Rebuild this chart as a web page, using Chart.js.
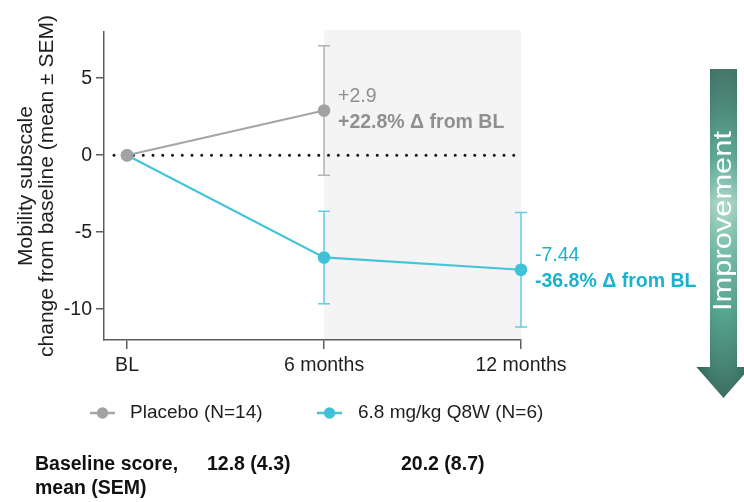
<!DOCTYPE html>
<html><head><meta charset="utf-8">
<script src="https://cdn.jsdelivr.net/npm/chart.js@4.4.0/dist/chart.umd.min.js"></script>
<style>html,body{margin:0;padding:0;background:#fff;}canvas{display:block;}</style>
</head><body>
<canvas id="c" width="744" height="502"></canvas>
<script>
// ---- data ----
const categories = ['BL', '6 months', '12 months'];
const xPositions = [0, 1, 2];
const yTicks = [-10, -5, 0, 5];
const seriesNames = ['Placebo (N=14)', '6.8 mg/kg Q8W (N=6)'];
const placeboMean = [0, 2.9];
const placeboSem = [0, 4.2];
const drugMean = [0, -6.64, -7.44];
const drugSem = [0, 3.0, 3.72];
const placeboLabel = ['+2.9', '+22.8% \u0394 from BL'];
const drugLabel = ['-7.44', '-36.8% \u0394 from BL'];
const baselineRowTitle = ['Baseline score,', 'mean (SEM)'];
const baselineScores = ['12.8 (4.3)', '20.2 (8.7)'];
const arrowText = 'Improvement';
const yTitle = ['Mobility subscale', 'change from baseline (mean \u00b1 SEM)'];

const FONT = "'Liberation Sans', Arial, Helvetica, sans-serif";
const GRAY = '#a5a5a8';
const CYAN = '#45c3d9';
const AXIS = '#5c5c5c';
const TXT = '#1e1e1e';

function pts(means) { return means.map((v, i) => ({ x: xPositions[i], y: v })); }

const bandPlugin = {
  id: 'band',
  beforeDraw(chart) {
    const { ctx, chartArea, scales } = chart;
    const x1 = scales.x.getPixelForValue(xPositions[1]);
    const x2 = scales.x.getPixelForValue(xPositions[2]);
    ctx.save();
    ctx.fillStyle = '#f4f4f4';
    ctx.fillRect(x1, chartArea.top - 2, x2 - x1, chartArea.bottom - chartArea.top + 2);
    ctx.restore();
  }
};

const refErrPlugin = {
  id: 'referr',
  beforeDatasetsDraw(chart) {
    const { ctx, chartArea, scales } = chart;
    const y0 = scales.y.getPixelForValue(0);
    ctx.save();
    ctx.strokeStyle = '#111';
    ctx.lineWidth = 3;
    ctx.lineCap = 'round';
    ctx.setLineDash([0, 9.75]);
    ctx.beginPath();
    ctx.moveTo(chartArea.left + 10, y0);
    ctx.lineTo(scales.x.getPixelForValue(xPositions[2]), y0);
    ctx.stroke();
    ctx.restore();
    // error bars
    const sets = [
      { m: placeboMean, s: placeboSem, c: '#b2b2b4' },
      { m: drugMean, s: drugSem, c: '#62cce0' }
    ];
    ctx.save();
    ctx.lineWidth = 1.5;
    sets.forEach(set => {
      ctx.strokeStyle = set.c;
      set.m.forEach((v, i) => {
        if (!set.s[i]) return;
        const x = scales.x.getPixelForValue(xPositions[i]);
        const yt = scales.y.getPixelForValue(v + set.s[i]);
        const yb = scales.y.getPixelForValue(v - set.s[i]);
        ctx.beginPath();
        ctx.moveTo(x, yt); ctx.lineTo(x, yb);
        ctx.moveTo(x - 6, yt); ctx.lineTo(x + 6, yt);
        ctx.moveTo(x - 6, yb); ctx.lineTo(x + 6, yb);
        ctx.stroke();
      });
    });
    ctx.restore();
  }
};

const annoPlugin = {
  id: 'anno',
  afterDraw(chart) {
    const { ctx, scales } = chart;
    ctx.save();
    ctx.textBaseline = 'middle';
    ctx.textAlign = 'left';
    const notes = [
      { m: placeboMean, lab: placeboLabel, c: '#8f8f91' },
      { m: drugMean, lab: drugLabel, c: '#19b3cf' }
    ];
    notes.forEach(n => {
      const i = n.m.length - 1;
      const x = scales.x.getPixelForValue(xPositions[i]) + 14;
      const y = scales.y.getPixelForValue(n.m[i]);
      ctx.fillStyle = n.c;
      ctx.font = `19.5px ${FONT}`;
      ctx.fillText(n.lab[0], x, y - 14);
      ctx.font = `bold 19.5px ${FONT}`;
      ctx.fillText(n.lab[1], x, y + 12);
    });

    // legend
    const ds = chart.data.datasets;
    const legendX = [[90, 130], [317, 358]];
    ctx.font = `19px ${FONT}`;
    ds.forEach((d, k) => {
      const [sx, tx] = legendX[k];
      const ly = 413;
      ctx.strokeStyle = d.borderColor;
      ctx.lineWidth = 2.5;
      ctx.beginPath(); ctx.moveTo(sx, ly); ctx.lineTo(sx + 25, ly); ctx.stroke();
      ctx.fillStyle = d.pointBackgroundColor;
      ctx.beginPath(); ctx.arc(sx + 12.5, ly, 5.7, 0, Math.PI * 2); ctx.fill();
      ctx.fillStyle = TXT;
      ctx.fillText(d.label, tx, ly);
    });

    // baseline rows
    ctx.font = `bold 19.5px ${FONT}`;
    ctx.fillStyle = '#111';
    ctx.fillText(baselineRowTitle[0], 35, 465);
    ctx.fillText(baselineRowTitle[1], 35, 489);
    ctx.fillText(baselineScores[0], 207, 465);
    ctx.fillText(baselineScores[1], 401, 465);

    // improvement arrow
    const bl = 710, br = 737, top = 69, hy = 367, tip = 398, cx = 723.5, hw = 27;
    ctx.beginPath();
    ctx.moveTo(bl, top); ctx.lineTo(br, top); ctx.lineTo(br, hy);
    ctx.lineTo(cx + hw, hy); ctx.lineTo(cx, tip); ctx.lineTo(cx - hw, hy);
    ctx.lineTo(bl, hy); ctx.closePath();
    const g = ctx.createLinearGradient(0, top, 0, tip);
    g.addColorStop(0, '#356a5d');
    g.addColorStop(0.12, '#3d8270');
    g.addColorStop(0.28, '#55aa93');
    g.addColorStop(0.41, '#a6d6c7');
    g.addColorStop(0.55, '#6dbba4');
    g.addColorStop(0.75, '#469c84');
    g.addColorStop(0.9, '#367a68');
    g.addColorStop(1, '#2b5f52');
    ctx.fillStyle = g;
    ctx.fill();
    const gh = ctx.createLinearGradient(bl - 13, 0, br + 13, 0);
    gh.addColorStop(0, 'rgba(0,40,30,0.25)');
    gh.addColorStop(0.5, 'rgba(255,255,255,0.08)');
    gh.addColorStop(1, 'rgba(0,40,30,0.25)');
    ctx.fillStyle = gh;
    ctx.fill();
    ctx.save();
    ctx.translate(cx, 221);
    ctx.rotate(-Math.PI / 2);
    ctx.font = `25px ${FONT}`;
    const w = ctx.measureText(arrowText).width;
    ctx.scale(180 / w, 1);
    ctx.fillStyle = '#ffffff';
    ctx.textAlign = 'center';
    ctx.textBaseline = 'middle';
    ctx.fillText(arrowText, 0, 1);
    ctx.restore();
    ctx.restore();
  }
};

new Chart(document.getElementById('c'), {
  type: 'line',
  data: {
    datasets: [
      {
        label: seriesNames[0], data: pts(placeboMean),
        borderColor: GRAY, backgroundColor: GRAY,
        pointBackgroundColor: '#a2a2a5', pointBorderColor: '#a2a2a5',
        borderWidth: 2.2, pointRadius: 6.3, pointBorderWidth: 0,
        tension: 0, clip: false
      },
      {
        label: seriesNames[1], data: pts(drugMean),
        borderColor: CYAN, backgroundColor: CYAN,
        pointBackgroundColor: '#40c1d8', pointBorderColor: '#40c1d8',
        borderWidth: 2.2, pointRadius: 6.3, pointBorderWidth: 0,
        tension: 0, clip: false
      }
    ]
  },
  options: {
    responsive: false, animation: false, devicePixelRatio: 1,
    layout: { padding: { left: 0, right: 223, top: 32, bottom: 122 } },
    plugins: { legend: { display: false }, tooltip: { enabled: false } },
    scales: {
      x: {
        type: 'linear', min: -0.117, max: 2,
        afterBuildTicks: s => { s.ticks = xPositions.map(v => ({ value: v })); },
        afterFit: s => { s.height = 40; },
        ticks: {
          callback: v => { const i = xPositions.indexOf(v); return i >= 0 ? categories[i] : ''; },
          font: { family: FONT, size: 19.5 }, color: TXT, padding: 5, maxRotation: 0, autoSkip: false
        },
        grid: { drawOnChartArea: false, drawTicks: true, tickLength: 9, color: AXIS, lineWidth: 1.5 },
        border: { display: true, color: AXIS, width: 1.5 }
      },
      y: {
        min: -12, max: 8,
        afterBuildTicks: s => { s.ticks = yTicks.map(v => ({ value: v })); },
        afterFit: s => { s.width = 104; },
        ticks: { font: { family: FONT, size: 19.5 }, color: TXT, padding: 4 },
        grid: { drawOnChartArea: false, drawTicks: true, tickLength: 8, color: AXIS, lineWidth: 1.5 },
        border: { display: true, color: AXIS, width: 1.5 },
        title: {
          display: true, text: yTitle, color: TXT,
          font: { family: FONT, size: 21, lineHeight: 1.0 },
          padding: { top: 15.5, bottom: 0 }
        }
      }
    }
  },
  plugins: [bandPlugin, refErrPlugin, annoPlugin]
});
</script>
</body></html>
